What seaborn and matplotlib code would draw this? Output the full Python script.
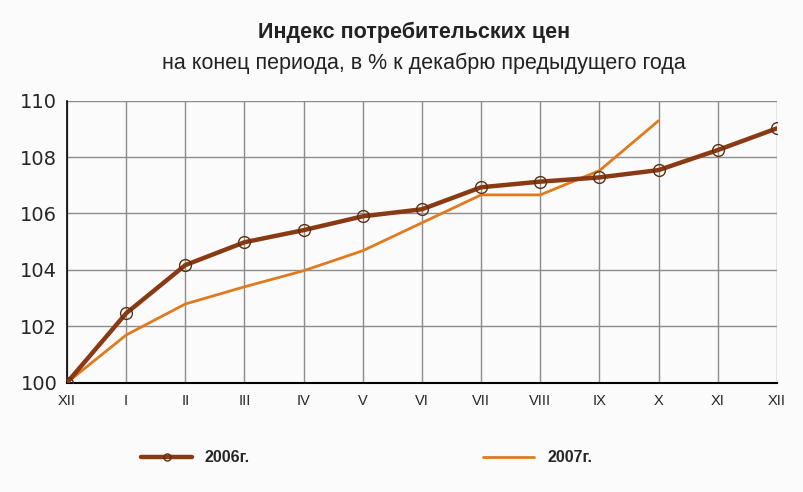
import matplotlib
matplotlib.use("Agg")
import matplotlib.pyplot as plt
import seaborn as sns
import pandas as pd

months = ["XII", "I", "II", "III", "IV", "V", "VI", "VII", "VIII", "IX", "X", "XI", "XII"]
cpi_2006 = [100.0, 102.46, 104.17, 104.98, 105.41, 105.9, 106.15, 106.93, 107.13, 107.28, 107.54, 108.25, 109.02]
cpi_2007 = [100.0, 101.69, 102.79, 103.40, 103.97, 104.68, 105.67, 106.66, 106.66, 107.52, 109.29]
series_names = ["2006г.", "2007г."]

sns.set_theme(style="white")
plt.rcParams['font.family'] = ['Liberation Sans', 'DejaVu Sans']

df06 = pd.DataFrame({"pos": range(len(cpi_2006)), "val": cpi_2006})
df07 = pd.DataFrame({"pos": range(len(cpi_2007)), "val": cpi_2007})

fig = plt.figure(figsize=(8.04, 4.92), dpi=100, facecolor="#fbfbfb")
ax = fig.add_axes([0.0833, 0.2222, 0.883, 0.5731])
ax.set_facecolor("#fbfbfb")

sns.lineplot(data=df07, x="pos", y="val", ax=ax, color="#e07a1f", linewidth=2.0,
             label=series_names[1], zorder=3)
sns.lineplot(data=df06, x="pos", y="val", ax=ax, color="#8a3a12", linewidth=3.2,
             marker="o", markersize=8.5, markerfacecolor="none",
             markeredgecolor="#5a3010", markeredgewidth=1.0,
             label=series_names[0], zorder=4)

ax.set_xlim(0, 12)
ax.set_ylim(100, 110)
ax.set_xticks(range(13))
ax.set_xticklabels(months, fontsize=10.5)
ax.set_yticks([100, 102, 104, 106, 108, 110])
for lbl in ax.get_yticklabels():
    lbl.set_family("DejaVu Sans")
ax.tick_params(axis="y", labelsize=14, direction="out", length=5, width=1, color="black", pad=2)
ax.tick_params(axis="x", direction="out", length=5, width=1, color="black", pad=3)
ax.grid(True, color="#8c8c8c", linewidth=1.0)
ax.set_axisbelow(True)
for s in ["top", "right"]:
    ax.spines[s].set_visible(False)
ax.spines["left"].set_color("black")
ax.spines["bottom"].set_color("black")
ax.spines["left"].set_linewidth(1.2)
ax.spines["bottom"].set_linewidth(1.5)
ax.set_xlabel("")
ax.set_ylabel("")

handles, labels = ax.get_legend_handles_labels()
order = [labels.index(series_names[0]), labels.index(series_names[1])]
leg = ax.legend([handles[i] for i in order], [labels[i] for i in order],
                loc="center", bbox_to_anchor=(0.422, -0.267), ncol=2, frameon=False,
                handlelength=3.2, columnspacing=14.6, markerscale=0.6,
                prop={"weight": "bold", "size": 11.5})

fig.text(0.515, 0.935, "Индекс потребительских цен", ha="center", va="center",
         fontsize=15.5, fontweight="bold", color="#222222")
fig.text(0.527, 0.872, "на конец периода, в % к декабрю предыдущего года",
         ha="center", va="center", fontsize=15.5, color="#222222")

fig.savefig("out.png", dpi=100, facecolor=fig.get_facecolor())
